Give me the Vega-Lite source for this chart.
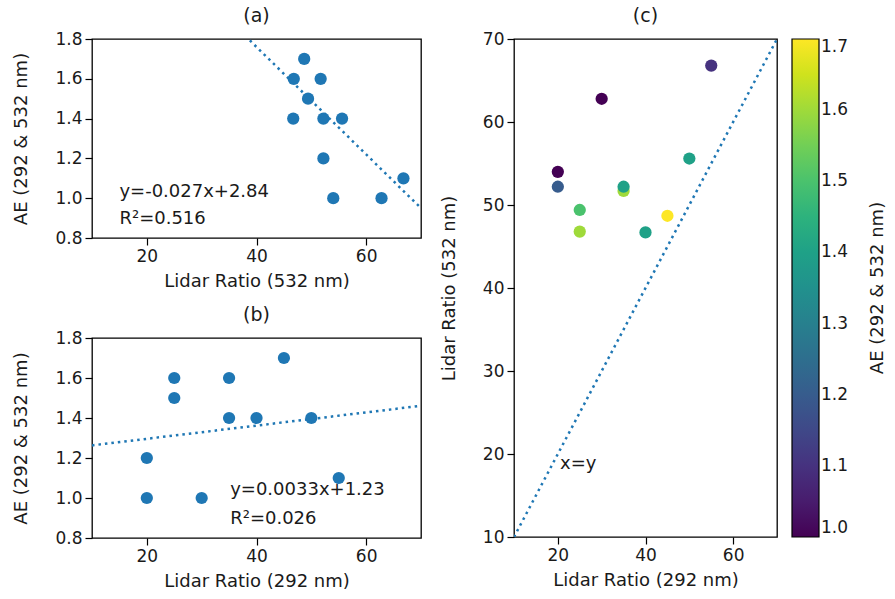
{
 "$schema": "https://vega.github.io/schema/vega-lite/v6.json",
 "background": "white",
 "padding": {"left": 12, "top": 6, "right": 0, "bottom": 0},
 "datasets": {
  "obs": [
   {"lr292": 20, "lr532": 54.0, "ae": 1.0},
   {"lr292": 20, "lr532": 52.2, "ae": 1.2},
   {"lr292": 25, "lr532": 49.4, "ae": 1.5},
   {"lr292": 25, "lr532": 46.8, "ae": 1.6},
   {"lr292": 30, "lr532": 62.8, "ae": 1.0},
   {"lr292": 35, "lr532": 51.7, "ae": 1.6},
   {"lr292": 35, "lr532": 52.2, "ae": 1.4},
   {"lr292": 40, "lr532": 46.7, "ae": 1.4},
   {"lr292": 45, "lr532": 48.7, "ae": 1.7},
   {"lr292": 50, "lr532": 55.6, "ae": 1.4},
   {"lr292": 55, "lr532": 66.8, "ae": 1.1}
  ],
  "fitA": [{"x": 10, "y": 2.57, "x2": 70, "y2": 0.95}],
  "fitB": [{"x": 10, "y": 1.263, "x2": 70, "y2": 1.461}],
  "fitC": [{"x": 10, "y": 10, "x2": 70, "y2": 70}],
  "noteA": [{"x": 15, "y": 1.03, "label": "y=-0.027x+2.84"}, {"x": 15, "y": 0.895, "label": "R²=0.516"}],
  "noteB": [{"x": 35.2, "y": 1.04, "label": "y=0.0033x+1.23"}, {"x": 35.2, "y": 0.895, "label": "R²=0.026"}],
  "noteC": [{"x": 20.5, "y": 18.8, "label": "x=y"}]
 },
 "config": {
  "font": "DejaVu Sans",
  "view": {"stroke": "#000", "strokeWidth": 1.3},
  "axis": {"grid": false, "domain": false, "tickColor": "#000", "tickWidth": 1.2, "tickSize": 7, "labelFontSize": 17, "labelColor": "#1a1a1a", "labelPadding": 3, "labelOverlap": false, "titleFontSize": 18, "titleFontWeight": "normal", "titleColor": "#1a1a1a", "titlePadding": 8, "labelFlush": false},
  "axisY": {"titlePadding": 24},
  "title": {"fontSize": 19, "fontWeight": "normal", "color": "#1a1a1a", "offset": 0},
  "legend": {"gradientLength": 498, "gradientThickness": 27, "offset": 91, "padding": 0, "labelFontSize": 17, "labelColor": "#1a1a1a", "labelOffset": 10, "labelBaseline": "middle", "titleOrient": "left", "titleFontSize": 18, "titleFontWeight": "normal", "titleColor": "#1a1a1a", "gradientStrokeColor": "#000", "gradientStrokeWidth": 1.2, "titlePadding": -96}
 },
 "spacing": 17,
 "hconcat": [
  {
   "spacing": 14,
   "vconcat": [
    {
     "width": 329, "height": 199,
     "title": "(a)",
     "layer": [
      {
       "data": {"name": "fitA"},
       "mark": {"type": "rule", "clip": true, "color": "#1f77b4", "strokeWidth": 2.5, "strokeDash": [2.5, 4]},
       "encoding": {
        "x": {"field": "x", "type": "quantitative", "scale": {"domain": [10, 70], "nice": false, "zero": false}, "axis": {"values": [20, 40, 60], "labelOverlap": false, "title": "Lidar Ratio (532 nm)"}},
        "y": {"field": "y", "type": "quantitative", "scale": {"domain": [0.8, 1.8], "nice": false, "zero": false}, "axis": {"tickCount": 5, "labelOverlap": false, "labelSeparation": 0, "format": ".1f", "title": "AE (292 & 532 nm)"}},
        "x2": {"field": "x2"},
        "y2": {"field": "y2"}
       }
      },
      {
       "data": {"name": "obs"},
       "mark": {"type": "circle", "size": 150, "color": "#1f77b4", "opacity": 1},
       "encoding": {
        "x": {"field": "lr532", "type": "quantitative", "title": "Lidar Ratio (532 nm)"},
        "y": {"field": "ae", "type": "quantitative", "title": "AE (292 & 532 nm)"}
       }
      },
      {
       "data": {"name": "noteA"},
       "mark": {"type": "text", "align": "left", "baseline": "middle", "fontSize": 18, "color": "#1a1a1a"},
       "encoding": {
        "x": {"field": "x", "type": "quantitative", "title": "Lidar Ratio (532 nm)"},
        "y": {"field": "y", "type": "quantitative", "title": "AE (292 & 532 nm)"},
        "text": {"field": "label"}
       }
      }
     ]
    },
    {
     "width": 329, "height": 200,
     "title": "(b)",
     "layer": [
      {
       "data": {"name": "fitB"},
       "mark": {"type": "rule", "clip": true, "color": "#1f77b4", "strokeWidth": 2.5, "strokeDash": [2.5, 4]},
       "encoding": {
        "x": {"field": "x", "type": "quantitative", "scale": {"domain": [10, 70], "nice": false, "zero": false}, "axis": {"values": [20, 40, 60], "labelOverlap": false, "title": "Lidar Ratio (292 nm)"}},
        "y": {"field": "y", "type": "quantitative", "scale": {"domain": [0.8, 1.8], "nice": false, "zero": false}, "axis": {"tickCount": 5, "labelOverlap": false, "labelSeparation": 0, "format": ".1f", "title": "AE (292 & 532 nm)"}},
        "x2": {"field": "x2"},
        "y2": {"field": "y2"}
       }
      },
      {
       "data": {"name": "obs"},
       "mark": {"type": "circle", "size": 150, "color": "#1f77b4", "opacity": 1},
       "encoding": {
        "x": {"field": "lr292", "type": "quantitative", "title": "Lidar Ratio (292 nm)"},
        "y": {"field": "ae", "type": "quantitative", "title": "AE (292 & 532 nm)"}
       }
      },
      {
       "data": {"name": "noteB"},
       "mark": {"type": "text", "align": "left", "baseline": "middle", "fontSize": 18, "color": "#1a1a1a"},
       "encoding": {
        "x": {"field": "x", "type": "quantitative", "title": "Lidar Ratio (292 nm)"},
        "y": {"field": "y", "type": "quantitative", "title": "AE (292 & 532 nm)"},
        "text": {"field": "label"}
       }
      }
     ]
    }
   ]
  },
  {
   "width": 263, "height": 498,
   "title": "(c)",
   "layer": [
    {
     "data": {"name": "fitC"},
     "mark": {"type": "rule", "clip": true, "color": "#1f77b4", "strokeWidth": 2.5, "strokeDash": [2.5, 4]},
     "encoding": {
      "x": {"field": "x", "type": "quantitative", "scale": {"domain": [10, 70], "nice": false, "zero": false}, "axis": {"values": [20, 40, 60], "labelOverlap": false, "title": "Lidar Ratio (292 nm)"}},
      "y": {"field": "y", "type": "quantitative", "scale": {"domain": [10, 70], "nice": false, "zero": false}, "axis": {"values": [10, 20, 30, 40, 50, 60, 70], "labelOverlap": false, "title": "Lidar Ratio (532 nm)"}},
      "x2": {"field": "x2"},
      "y2": {"field": "y2"}
     }
    },
    {
     "data": {"name": "obs"},
     "mark": {"type": "circle", "size": 150, "opacity": 1},
     "encoding": {
      "x": {"field": "lr292", "type": "quantitative", "title": "Lidar Ratio (292 nm)"},
      "y": {"field": "lr532", "type": "quantitative", "title": "Lidar Ratio (532 nm)"},
      "color": {"field": "ae", "type": "quantitative", "scale": {"scheme": "viridis", "domain": [1.0, 1.7]}, "legend": {"title": "AE (292 & 532 nm)", "values": [1.0, 1.1, 1.2, 1.3, 1.4, 1.5, 1.6, 1.7], "format": ".1f", "direction": "vertical"}}
     }
    },
    {
     "data": {"name": "noteC"},
     "mark": {"type": "text", "align": "left", "baseline": "middle", "fontSize": 18, "color": "#1a1a1a"},
     "encoding": {
      "x": {"field": "x", "type": "quantitative", "title": "Lidar Ratio (292 nm)"},
      "y": {"field": "y", "type": "quantitative", "title": "Lidar Ratio (532 nm)"},
      "text": {"field": "label"}
     }
    }
   ]
  }
 ]
}
